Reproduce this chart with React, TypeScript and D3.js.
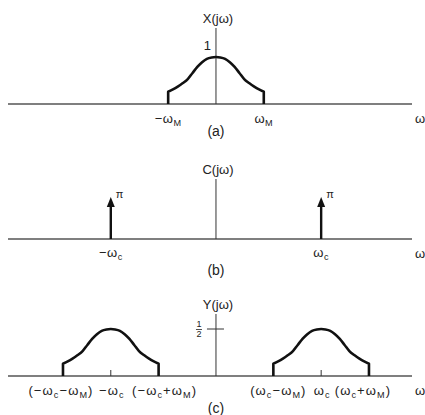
import React, { useRef, useEffect } from 'react';
import * as d3 from 'd3';

const omegaM = 1;
const omegaC = 2.2;

// shape of X(jw); w in units of omegaM
const shapeW = [-1, -0.9, -0.8, -0.7, -0.59, -0.49, -0.39, -0.29, -0.19, -0.09, 0, 0.09, 0.19, 0.29, 0.39, 0.49, 0.59, 0.7, 0.8, 0.9, 1];
const shapeX = [0.26, 0.31, 0.37, 0.44, 0.53, 0.66, 0.79, 0.89, 0.96, 0.99, 1, 0.99, 0.96, 0.89, 0.79, 0.66, 0.53, 0.44, 0.37, 0.31, 0.26];

const impulseW = [-omegaC, omegaC];
const impulseH = [Math.PI, Math.PI];

const bumpCenters = [-omegaC, omegaC];
const bumpGain = 0.5;

// tick labels, '_x' = subscript x
const ticksA = [-omegaM, omegaM];
const labelsA = ['−ω_M', 'ω_M'];
const ticksB = [-omegaC, omegaC];
const labelsB = ['−ω_c', 'ω_c'];
const ticksC = [-omegaC - omegaM, -omegaC, -omegaC + omegaM, omegaC - omegaM, omegaC, omegaC + omegaM];
const labelsC = ['(−ω_c−ω_M)', '−ω_c', '(−ω_c+ω_M)', '(ω_c−ω_M)', 'ω_c', '(ω_c+ω_M)'];
const shiftC = [-2, 1, 6, 5, 1, -6];

export default () => {
	const svgWidth = 425;
	const svgHeight = 415;
	const ref = useRef(null);

	useEffect(() => {
		const svg = d3.select(ref.current);
		svg.selectAll('*').remove();

		const font = '"Liberation Sans", Arial, sans-serif';
		const ink = '#222';
		const x = d3.scaleLinear().domain([-4.35, 4.1]).range([8, 412]);

		const addLabel = (g, str, px, py, anchor = 'middle', size = 13, spacing = 0) => {
			const t = g.append('text').attr('x', px).attr('y', py).attr('text-anchor', anchor)
				.style('font-family', font).style('font-size', size + 'px').style('fill', ink)
				.style('letter-spacing', spacing + 'px');
			let sub = false;
			let i = 0;
			while (i < str.length) {
				if (str[i] === '_') {
					t.append('tspan').attr('dy', 3).style('font-size', size * 0.7 + 'px').text(str[i + 1]);
					sub = true;
					i += 2;
				} else {
					let j = i;
					while (j < str.length && str[j] !== '_') j++;
					t.append('tspan').attr('dy', sub ? -3 : 0).text(str.slice(i, j));
					sub = false;
					i = j;
				}
			}
			return t;
		};

		const panel = (base, top, title, caption, capY) => {
			const g = svg.append('g');
			g.append('line').attr('x1', x.range()[0]).attr('x2', x.range()[1]).attr('y1', base).attr('y2', base)
				.attr('stroke', '#555').attr('stroke-width', 1.3);
			g.append('line').attr('x1', x(0)).attr('x2', x(0)).attr('y1', base).attr('y2', top)
				.attr('stroke', '#333').attr('stroke-width', 1);
			addLabel(g, title, x(0) + 2, top - 5);
			addLabel(g, 'ω', 415, base + 19, 'start');
			g.append('text').attr('x', x(0)).attr('y', capY).attr('text-anchor', 'middle')
				.style('font-family', font).style('font-size', '14px').style('fill', ink).text(caption);
			return g;
		};

		const bump = (g, y, center, gain, base) => {
			const pts = shapeW.map((w, i) => [center + w * omegaM, shapeX[i] * gain]);
			const curve = d3.line().x((d) => x(d[0])).y((d) => y(d[1])).curve(d3.curveMonotoneX)(pts);
			const first = pts[0];
			const last = pts[pts.length - 1];
			const d = `M${x(first[0])},${base}L` + curve.slice(1) + `L${x(last[0])},${base}`;
			g.append('path').attr('d', d).attr('fill', 'none').attr('stroke', '#111')
				.attr('stroke-width', 2.6).attr('stroke-linejoin', 'round');
		};

		/* (a) */
		const baseA = 104;
		const yA = d3.scaleLinear().domain([0, 1]).range([baseA, 57]);
		const gA = panel(baseA, 28, 'X(jω)', '(a)', 136);
		bump(gA, yA, 0, 1, baseA);
		addLabel(gA, '1', x(0) - 5, yA(1) - 7, 'end');
		ticksA.forEach((v, i) => addLabel(gA, labelsA[i], x(v), baseA + 19, 'middle', 13, 0.5));

		/* (b) */
		const baseB = 239;
		const yB = d3.scaleLinear().domain([0, Math.PI]).range([baseB, 197]);
		const gB = panel(baseB, 179, 'C(jω)', '(b)', 275);
		impulseW.forEach((w, i) => {
			const xp = x(w);
			const tip = yB(impulseH[i]);
			gB.append('line').attr('x1', xp).attr('x2', xp).attr('y1', baseB).attr('y2', tip + 8)
				.attr('stroke', '#111').attr('stroke-width', 2.4);
			gB.append('path').attr('d', `M${xp},${tip}L${xp - 4},${tip + 10}L${xp + 4},${tip + 10}Z`).attr('fill', '#111');
			addLabel(gB, 'π', xp + 5, tip + 1, 'start', 11);
		});
		ticksB.forEach((v, i) => addLabel(gB, labelsB[i], x(v), baseB + 18, 'middle', 13, 0.5));

		/* (c) */
		const baseC = 376;
		const yC = d3.scaleLinear().domain([0, 0.5]).range([baseC, 329]);
		const gC = panel(baseC, 314, 'Y(jω)', '(c)', 413);
		bumpCenters.forEach((c) => {
			bump(gC, yC, c, bumpGain, baseC);
			gC.append('line').attr('x1', x(c)).attr('x2', x(c)).attr('y1', baseC).attr('y2', baseC - 6)
				.attr('stroke', '#333').attr('stroke-width', 1);
		});
		const yHalf = yC(0.5);
		gC.append('line').attr('x1', x(0) - 9).attr('x2', x(0) + 8).attr('y1', yHalf).attr('y2', yHalf)
			.attr('stroke', '#333').attr('stroke-width', 1);
		addLabel(gC, '1', x(0) - 17, yHalf - 2, 'middle', 9);
		gC.append('line').attr('x1', x(0) - 20).attr('x2', x(0) - 14).attr('y1', yHalf + 0.5).attr('y2', yHalf + 0.5)
			.attr('stroke', ink).attr('stroke-width', 0.8);
		addLabel(gC, '2', x(0) - 17, yHalf + 8, 'middle', 9);
		ticksC.forEach((v, i) => addLabel(gC, labelsC[i], x(v) + shiftC[i], baseC + 19, 'middle', 13, 1.1));
	}, []);

	return (
		<svg ref={ref} width={svgWidth} height={svgHeight}
			style={{ position: 'absolute', left: 0, top: 0, background: '#fff' }} />
	);
};
